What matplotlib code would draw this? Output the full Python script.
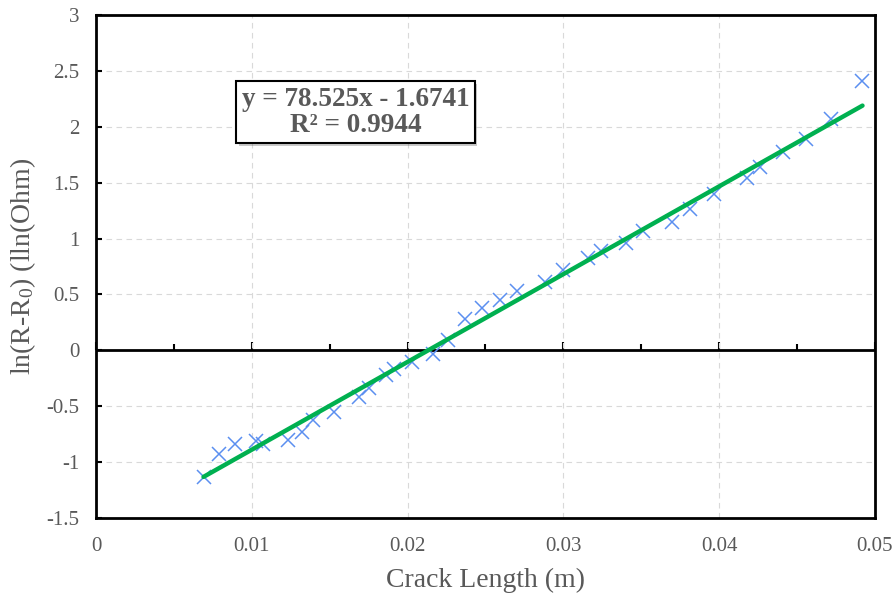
import matplotlib
matplotlib.use('Agg')
import matplotlib.pyplot as plt
import matplotlib.patheffects as pe
import numpy as np

# crack length (m) and ln(R-R0)
crack_len = [0.0069, 0.0079, 0.0089, 0.0103, 0.0107, 0.0123, 0.0132, 0.0139, 0.0153,
             0.0169, 0.0175, 0.0186, 0.0191, 0.0203, 0.0216, 0.0226, 0.0237, 0.0248,
             0.0259, 0.0270, 0.0288, 0.0300, 0.0316, 0.0324, 0.0340, 0.0351, 0.0370,
             0.0381, 0.0397, 0.0418, 0.0426, 0.0441, 0.0456, 0.0472, 0.0492]
ln_res = [-1.13, -0.93, -0.84, -0.81, -0.84, -0.80, -0.73, -0.62, -0.55,
          -0.42, -0.34, -0.22, -0.17, -0.10, -0.03, 0.09, 0.28, 0.38,
          0.45, 0.53, 0.61, 0.72, 0.83, 0.89, 0.96, 1.07, 1.15,
          1.26, 1.40, 1.54, 1.64, 1.77, 1.89, 2.07, 2.41]
slope = 78.525
intercept = -1.6741
r2 = 0.9944

x_ticks = [0, 0.01, 0.02, 0.03, 0.04, 0.05]
x_tick_labels = ['0', '0.01', '0.02', '0.03', '0.04', '0.05']
y_ticks = [-1.5, -1, -0.5, 0, 0.5, 1, 1.5, 2, 2.5, 3]
y_tick_labels = ['-1.5', '-1', '-0.5', '0', '0.5', '1', '1.5', '2', '2.5', '3']

plt.rcParams.update({
    'font.family': ['Liberation Serif', 'DejaVu Serif'],
    'mathtext.fontset': 'custom',
    'mathtext.rm': 'Liberation Serif',
    'mathtext.it': 'Liberation Serif:italic',
})
grey = '#595959'

fig = plt.figure(figsize=(8.94, 5.93), dpi=100)
ax = fig.add_axes([0.1074, 0.1265, 0.8713, 0.8482])

ax.set_xlim(0, 0.05)
ax.set_ylim(-1.5, 3)
ax.set_xticks(x_ticks)
ax.set_xticklabels(x_tick_labels)
ax.set_yticks(y_ticks)
ax.set_yticklabels(y_tick_labels)
ax.tick_params(axis='x', length=0, pad=14, labelsize=15, labelcolor=grey)
ax.tick_params(axis='y', direction='in', length=4, width=1.5, pad=12,
               labelsize=15, labelcolor=grey)
ax.grid(True, color='#d9d9d9', linestyle=(0, (5, 4)), linewidth=0.8)
ax.set_axisbelow(True)
for s in ax.spines.values():
    s.set_linewidth(2)
    s.set_color('black')

# horizontal axis crossing at zero with upward ticks
ax.axhline(0, color='black', linewidth=2, zorder=2)
sec = ax.secondary_xaxis(1.5 / 4.5)
sec.set_xticks(x_ticks)
sec.set_xticks(np.arange(0.005, 0.05, 0.01), minor=True)
sec.tick_params(which='major', direction='in', length=6, width=1.5, labelbottom=False)
sec.tick_params(which='minor', direction='in', length=4, width=1.5)
sec.spines['bottom'].set_visible(False)
sec.set_xticklabels([])

ax.plot(crack_len, ln_res, linestyle='none', marker='x', markersize=10,
        markeredgewidth=1.1, color='#5b8ff0', zorder=3)

xfit = np.array([min(crack_len), max(crack_len)])
ax.plot(xfit, slope * xfit + intercept, color='#00b050', linewidth=3.2,
        solid_capstyle='round', zorder=4)

t = ax.text(0.01665, 2.13, 'y = %.3fx - %.4f\nR² = %.4f' % (slope, -intercept, r2),
            ha='center', va='center', fontsize=19.5, fontweight='bold', color=grey,
            linespacing=1.05, zorder=6,
            bbox=dict(boxstyle='square,pad=0.2', facecolor='white',
                      edgecolor='black', linewidth=1.5))
t.get_bbox_patch().set_path_effects([pe.SimplePatchShadow(offset=(2, -2), alpha=0.3),
                                     pe.Normal()])

ax.set_xlabel('Crack Length (m)', fontsize=20, color=grey, labelpad=8)
ax.set_ylabel('ln(R-R$_0$) (lln(Ohm)', fontsize=20, color=grey, labelpad=6)

fig.savefig('out.png', dpi=100)
